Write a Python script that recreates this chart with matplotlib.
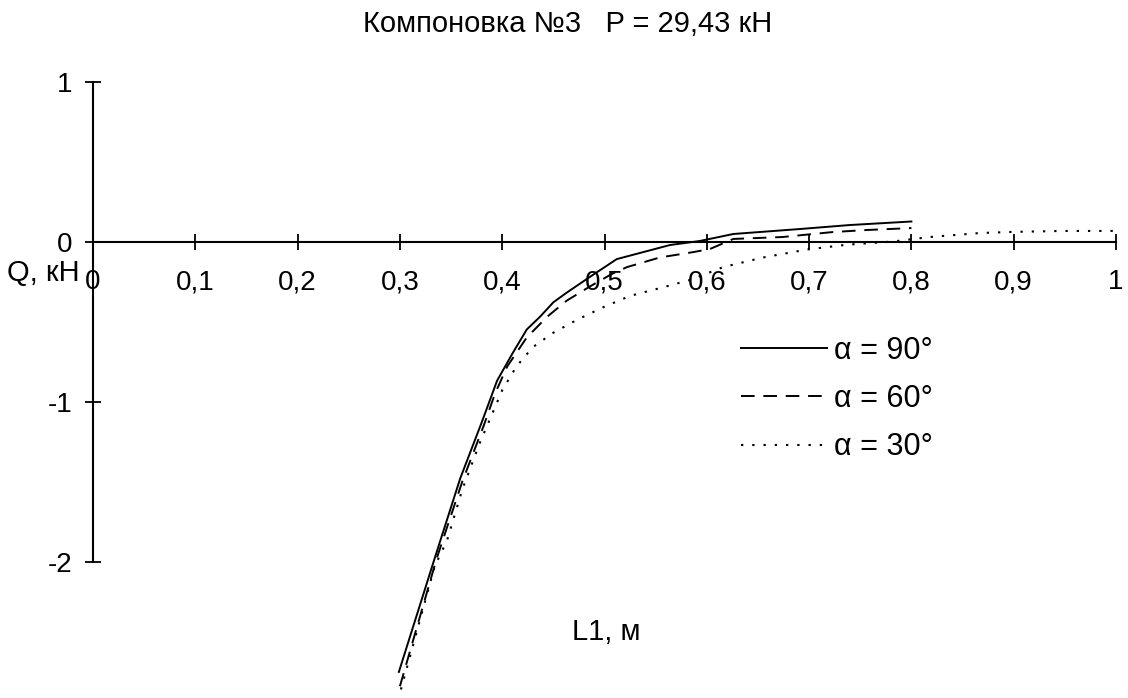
import numpy as np
import matplotlib
matplotlib.use("Agg")
import matplotlib.pyplot as plt

plt.rcParams['font.family'] = ['Liberation Sans', 'DejaVu Sans']

# Q(L1) для трёх углов
L_90 = [0.299, 0.334, 0.359, 0.380, 0.395, 0.410, 0.424, 0.437, 0.450, 0.463,
        0.486, 0.512, 0.538, 0.564, 0.593, 0.626, 0.691, 0.740, 0.800]
Q_90 = [-2.69, -1.98, -1.48, -1.13, -0.87, -0.70, -0.55, -0.47, -0.38, -0.32,
        -0.22, -0.11, -0.066, -0.022, 0.003, 0.047, 0.078, 0.103, 0.125]

L_60 = [0.300, 0.336, 0.361, 0.382, 0.393, 0.405, 0.424, 0.444, 0.463, 0.486,
        0.508, 0.522, 0.554, 0.587, 0.603, 0.626, 0.674, 0.723, 0.757, 0.800]
Q_60 = [-2.78, -1.98, -1.50, -1.15, -0.95, -0.78, -0.60, -0.47, -0.37, -0.28,
        -0.20, -0.16, -0.10, -0.066, -0.047, 0.016, 0.028, 0.059, 0.072, 0.084]

L_30 = [0.301, 0.334, 0.346, 0.361, 0.378, 0.400, 0.414, 0.430, 0.450, 0.473,
        0.499, 0.525, 0.555, 0.584, 0.616, 0.655, 0.698, 0.737, 0.782, 0.818,
        0.867, 0.899, 0.948, 1.000]
Q_30 = [-2.80, -2.03, -1.87, -1.55, -1.26, -0.93, -0.78, -0.66, -0.57, -0.49,
        -0.41, -0.34, -0.29, -0.24, -0.16, -0.10, -0.05, -0.02, 0.0, 0.028,
        0.053, 0.06, 0.066, 0.066]

x_ticks = [0, 0.1, 0.2, 0.3, 0.4, 0.5, 0.6, 0.7, 0.8, 0.9, 1]
x_labels = ['0', '0,1', '0,2', '0,3', '0,4', '0,5', '0,6', '0,7', '0,8', '0,9', '1']
y_ticks = [-2, -1, 0, 1]
y_labels = ['-2', '-1', '0', '1']

W, H = 1128, 698
fig = plt.figure(figsize=(W / 100, H / 100), dpi=100)
ax = fig.add_axes([93 / W, 0, (1116 - 93) / W, 1])
ax.set_xlim(0, 1)
ax.set_ylim((241.5 - H) / 160, 241.5 / 160)

ax.plot(L_90, Q_90, color='black', lw=1.4, label='α = 90°')
ax.plot(L_60, Q_60, color='black', lw=1.4, dashes=(7, 4.5), label='α = 60°')
ax.plot(L_30, Q_30, color='black', lw=1.5, dashes=(1.1, 4.3), label='α = 30°')

# оси проходят через ноль
for s in ['top', 'right']:
    ax.spines[s].set_visible(False)
ax.spines['left'].set_position(('data', 0))
ax.spines['bottom'].set_position(('data', 0))
ax.spines['left'].set_bounds(-2, 1)
ax.spines['bottom'].set_bounds(0, 1)
ax.spines['left'].set_linewidth(1.5)
ax.spines['bottom'].set_linewidth(1.5)

ax.set_xticks(x_ticks)
ax.set_xticklabels(x_labels)
ax.set_yticks(y_ticks)
ax.set_yticklabels(y_labels)
ax.tick_params(axis='both', direction='inout', length=12, width=1.3,
               labelsize=20)
ax.tick_params(axis='x', pad=14)
ax.tick_params(axis='y', pad=9)

ax.text(-0.049, -0.11, 'Q, кН', fontsize=21, ha='center', va='top')
ax.text(0.502, -2.44, 'L1, м', fontsize=21, ha='center', va='center')
fig.text(772 / W, 1 - 24 / H, 'Компоновка №3   P = 29,43 кН', fontsize=21,
         ha='right', va='center')

ax.legend(loc='center left', bbox_to_anchor=(741 / W, 1 - 399 / H),
          bbox_transform=fig.transFigure, frameon=False, fontsize=22,
          handlelength=2.8, handletextpad=0.25, labelspacing=0.6,
          borderpad=0, borderaxespad=0)

fig.savefig('out.png', dpi=100)
